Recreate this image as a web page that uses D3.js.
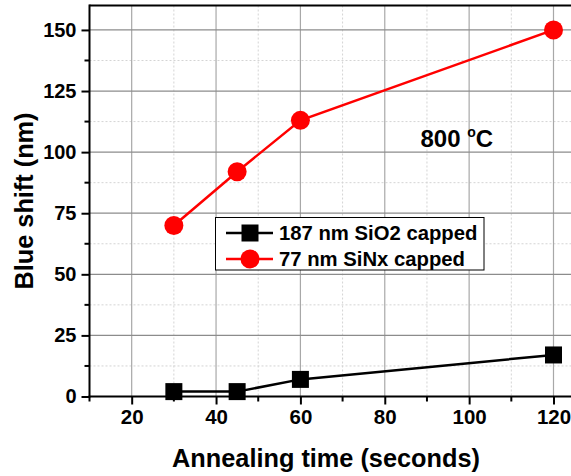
<!DOCTYPE html>
<html>
<head>
<meta charset="utf-8">
<script src="https://cdn.jsdelivr.net/npm/d3@7"></script>
<style>
  html, body { margin: 0; padding: 0; background: #fff; overflow: hidden; }
  svg { display: block; font-family: "Liberation Sans", Arial, sans-serif; font-weight: bold; }
</style>
</head>
<body>
<svg id="chart" width="571" height="476"></svg>
<script>
// Annealing time (s) and measured blue shift (nm) per capping layer
const times = [30, 45, 60, 120];
const sio2Shift = [2, 2, 7, 17];
const sinxShift = [70, 92, 113, 150];
const seriesNames = ["187 nm SiO2 capped", "77 nm SiNx capped"];
const xTicks = [20, 40, 60, 80, 100, 120];
const yTicks = [0, 25, 50, 75, 100, 125, 150];
const xMinor = [10, 30, 50, 70, 90, 110, 130];
const yMinor = [12.5, 37.5, 62.5, 87.5, 112.5, 137.5];

const svg = d3.select("#chart");

const x = d3.scaleLinear().domain([10, 120]).range([89.5, 553.5]);
const y = d3.scaleLinear().domain([0, 160]).range([396.5, 5.5]);
const xEnd = 132; // plot continues past the right edge of the page

const pLeft = x(10), pBottom = y(0), pTop = y(160), pRight = x(xEnd);

// grid
const grid = svg.append("g");
grid.selectAll(".vmin").data(xMinor.filter(d => d > 10)).join("line")
  .attr("x1", d => x(d)).attr("x2", d => x(d)).attr("y1", pTop).attr("y2", pBottom)
  .attr("stroke", "#d4d4d4").attr("stroke-width", 1).attr("stroke-dasharray", "2,2");
grid.selectAll(".hmin").data(yMinor).join("line")
  .attr("x1", pLeft).attr("x2", pRight).attr("y1", d => y(d)).attr("y2", d => y(d))
  .attr("stroke", "#d4d4d4").attr("stroke-width", 1).attr("stroke-dasharray", "2,2");
grid.selectAll(".vmaj").data(xTicks).join("line")
  .attr("x1", d => x(d)).attr("x2", d => x(d)).attr("y1", pTop).attr("y2", pBottom)
  .attr("stroke", "#a8a8a8").attr("stroke-width", 1.2);
grid.selectAll(".hmaj").data(yTicks.filter(d => d > 0)).join("line")
  .attr("x1", pLeft).attr("x2", pRight).attr("y1", d => y(d)).attr("y2", d => y(d))
  .attr("stroke", "#8c8c8c").attr("stroke-width", 1.2);

// top frame
svg.append("line").attr("x1", pLeft).attr("x2", pRight).attr("y1", pTop).attr("y2", pTop)
  .attr("stroke", "#000").attr("stroke-width", 2);

// axes
const xAxis = d3.axisBottom(x).tickValues(xTicks).tickSize(8).tickPadding(5).tickFormat(d3.format("d"));
const gx = svg.append("g").attr("transform", `translate(0,${pBottom})`).call(xAxis);
gx.select(".domain").remove();
gx.selectAll(".tick line").attr("stroke-width", 2);
gx.selectAll(".tick text").attr("font-size", 20.5).attr("font-weight", "bold").attr("font-family", "Liberation Sans, Arial, sans-serif");
gx.selectAll(".minor").data(xMinor).join("line").attr("class", "minor")
  .attr("x1", d => x(d)).attr("x2", d => x(d)).attr("y1", 0).attr("y2", 5)
  .attr("stroke", "#000").attr("stroke-width", 2);
svg.append("line").attr("x1", pLeft - 1).attr("x2", pRight).attr("y1", pBottom).attr("y2", pBottom)
  .attr("stroke", "#000").attr("stroke-width", 2);

const yAxis = d3.axisLeft(y).tickValues(yTicks).tickSize(8).tickPadding(5).tickFormat(d3.format("d"));
const gy = svg.append("g").attr("transform", `translate(${pLeft},0)`).call(yAxis);
gy.select(".domain").remove();
gy.selectAll(".tick line").attr("stroke-width", 2);
gy.selectAll(".tick text").attr("font-size", 20).attr("font-weight", "bold").attr("font-family", "Liberation Sans, Arial, sans-serif");
gy.selectAll(".minor").data(yMinor).join("line").attr("class", "minor")
  .attr("x1", -5).attr("x2", 0).attr("y1", d => y(d)).attr("y2", d => y(d))
  .attr("stroke", "#000").attr("stroke-width", 2);
svg.append("line").attr("x1", pLeft).attr("x2", pLeft).attr("y1", pTop - 1).attr("y2", pBottom + 1)
  .attr("stroke", "#000").attr("stroke-width", 2);

// axis titles
svg.append("text").attr("x", 326).attr("y", 466.5).attr("text-anchor", "middle")
  .attr("font-size", 25.3).text("Annealing time (seconds)");
svg.append("text").attr("transform", "translate(33,201) rotate(-90)").attr("text-anchor", "middle")
  .attr("font-size", 25.3).text("Blue shift (nm)");

// series
const line = d3.line().x(d => x(d[0])).y(d => y(d[1]));
const sio2Pts = times.map((t, i) => [t, sio2Shift[i]]);
const sinxPts = times.map((t, i) => [t, sinxShift[i]]);

svg.append("path").datum(sio2Pts).attr("d", line).attr("fill", "none")
  .attr("stroke", "#000").attr("stroke-width", 2.5);
svg.append("path").datum(sinxPts).attr("d", line).attr("fill", "none")
  .attr("stroke", "#ff0000").attr("stroke-width", 2.5);

const sq = 17;
svg.selectAll(".sq").data(sio2Pts).join("rect")
  .attr("x", d => x(d[0]) - sq / 2).attr("y", d => y(d[1]) - sq / 2)
  .attr("width", sq).attr("height", sq).attr("fill", "#000");
svg.selectAll(".ci").data(sinxPts).join("circle")
  .attr("cx", d => x(d[0])).attr("cy", d => y(d[1])).attr("r", 9.5).attr("fill", "#ff0000");

// annotation
const ann = svg.append("text").attr("x", 420.5).attr("y", 146.5).attr("font-size", 24);
ann.append("tspan").text("800 ");
ann.append("tspan").attr("font-size", 14).attr("dy", -10).text("o");
ann.append("tspan").attr("dy", 10).text("C");

// legend
const lg = svg.append("g");
lg.append("rect").attr("x", 215.5).attr("y", 217.5).attr("width", 268.5).attr("height", 52.5)
  .attr("fill", "#fff").attr("stroke", "#000").attr("stroke-width", 1);
const rows = [
  { name: seriesNames[0], color: "#000", shape: "square", cy: 233 },
  { name: seriesNames[1], color: "#ff0000", shape: "circle", cy: 259 }
];
rows.forEach(r => {
  lg.append("line").attr("x1", 226).attr("x2", 273).attr("y1", r.cy).attr("y2", r.cy)
    .attr("stroke", r.color).attr("stroke-width", 2.5);
  if (r.shape === "square") {
    lg.append("rect").attr("x", 250 - sq / 2).attr("y", r.cy - sq / 2).attr("width", sq).attr("height", sq).attr("fill", r.color);
  } else {
    lg.append("circle").attr("cx", 250).attr("cy", r.cy).attr("r", 9.5).attr("fill", r.color);
  }
  lg.append("text").attr("x", 279).attr("y", r.cy + 7).attr("font-size", 20.3).text(r.name);
});
</script>
</body>
</html>
